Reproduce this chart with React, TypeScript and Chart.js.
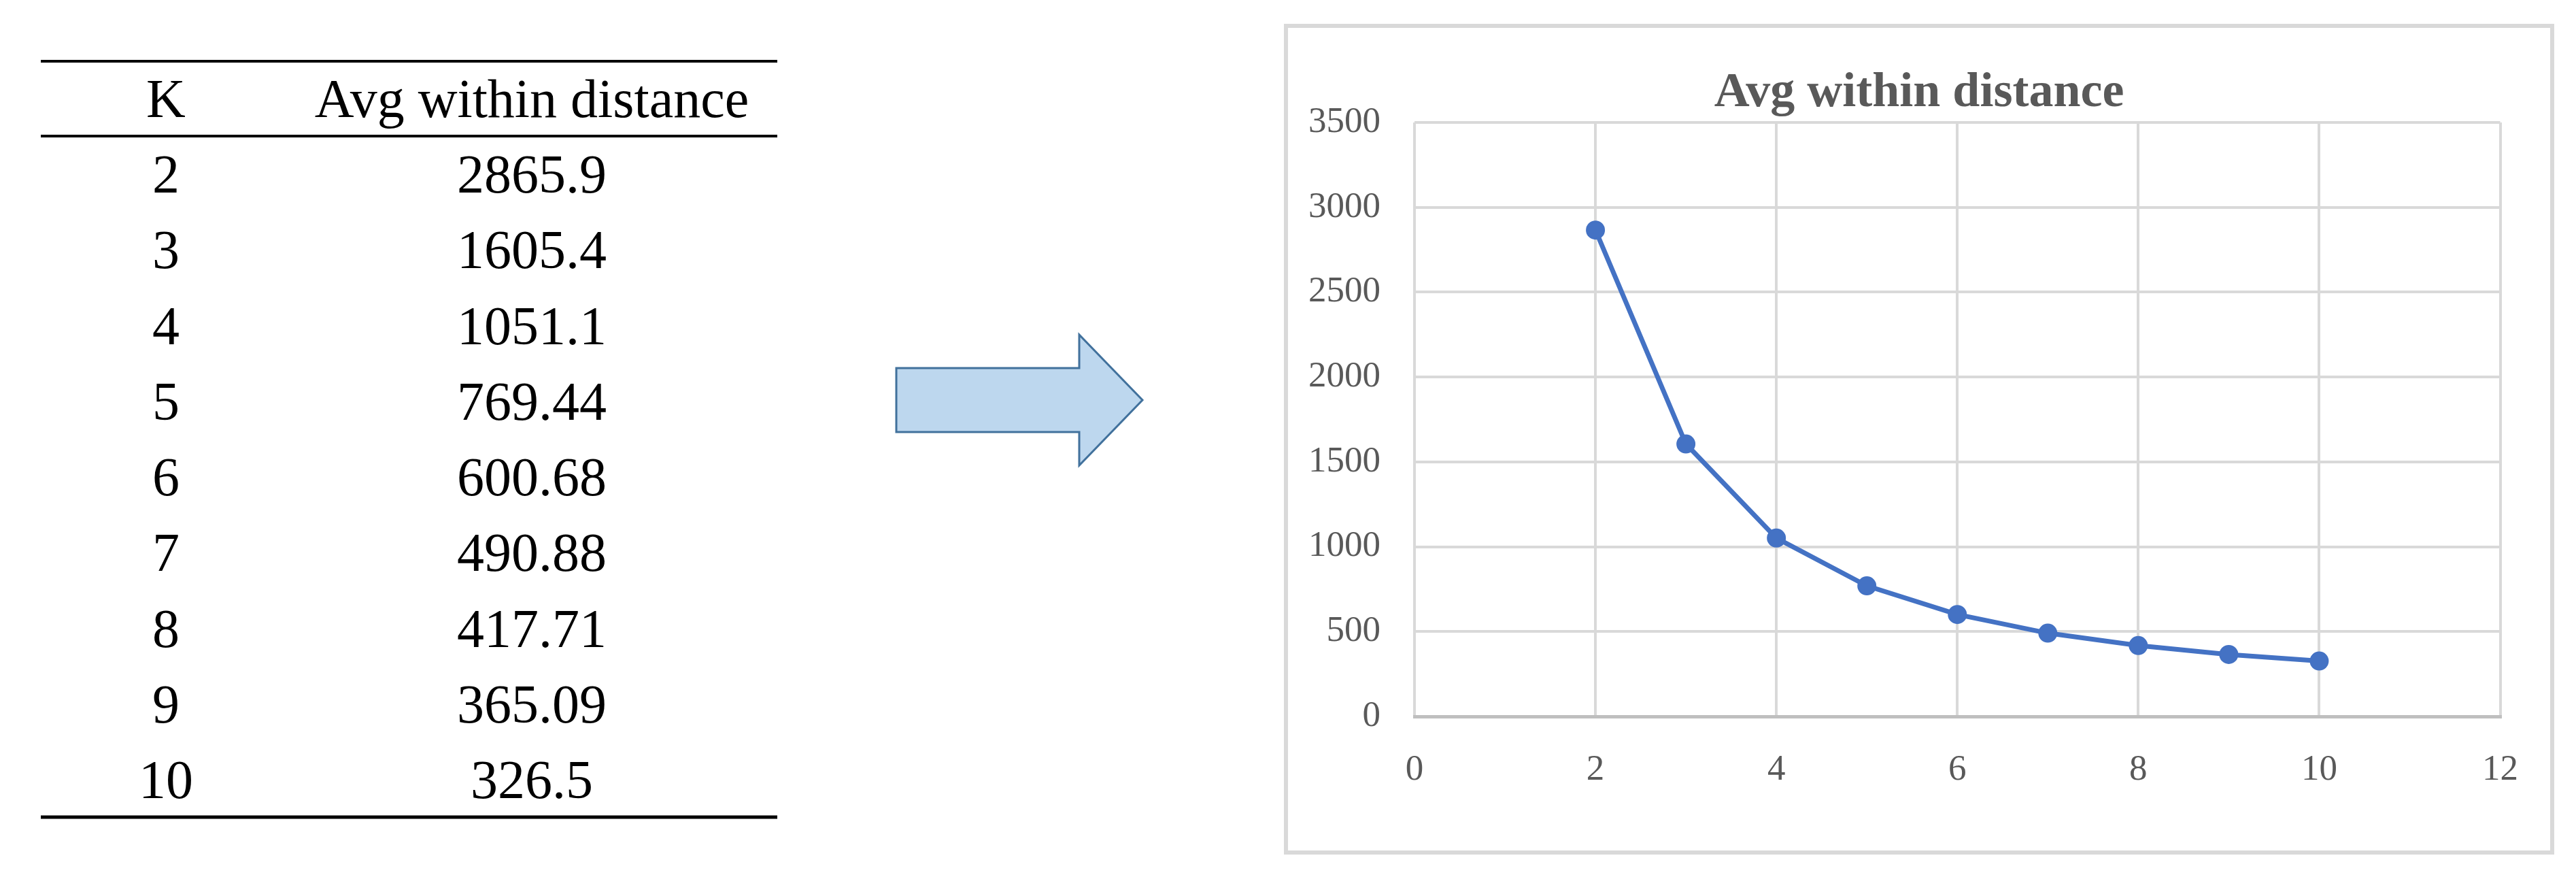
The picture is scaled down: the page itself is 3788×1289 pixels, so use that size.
import React, { useEffect, useRef } from "react";
import { Chart, registerables } from "chart.js";

Chart.register(...registerables);

// ---- data ----
const kValues = [2, 3, 4, 5, 6, 7, 8, 9, 10];
const avgWithinDistance = [2865.9, 1605.4, 1051.1, 769.44, 600.68, 490.88, 417.71, 365.09, 326.5];
const tableHeaders = ["K", "Avg within distance"];
const chartTitle = "Avg within distance";
const xTickRange = [0, 12, 2]; // min, max, step
const yTickRange = [0, 3500, 500]; // min, max, step

const FONT = "'Liberation Serif', 'Times New Roman', serif";
const TEXT_GRAY = "#595959";
const GRID = "#D9D9D9";
const AXIS = "#BFBFBF";
const BLUE = "#4472C4";

function ElbowChart() {
  const ref = useRef<HTMLCanvasElement | null>(null);
  useEffect(() => {
    if (!ref.current) return;
    const chart = new Chart(ref.current, {
      type: "line",
      data: {
        datasets: [
          {
            label: chartTitle,
            data: kValues.map((k, i) => ({ x: k, y: avgWithinDistance[i] })),
            borderColor: BLUE,
            backgroundColor: BLUE,
            borderWidth: 7,
            pointRadius: 13,
            pointBorderWidth: 2,
            pointBackgroundColor: BLUE,
            pointBorderColor: BLUE,
            tension: 0,
            fill: false,
          },
        ],
      },
      options: {
        responsive: false,
        animation: false,
        devicePixelRatio: 1,
        layout: { padding: { top: 0, left: 0, right: 0, bottom: 0 } },
        plugins: {
          legend: { display: false },
          tooltip: { enabled: false },
          title: {
            display: true,
            text: chartTitle,
            color: TEXT_GRAY,
            font: { family: FONT, size: 72, weight: "bold", lineHeight: 1.18 },
            padding: { top: 54, bottom: 0 },
          },
        },
        scales: {
          x: {
            type: "linear",
            min: xTickRange[0],
            max: xTickRange[1],
            ticks: {
              stepSize: xTickRange[2],
              padding: 47,
              color: TEXT_GRAY,
              font: { family: FONT, size: 53 },
              maxRotation: 0,
              callback: (v: any) => String(v),
            },
            grid: { color: GRID, lineWidth: 4, drawTicks: false },
            border: { display: true, color: AXIS, width: 5 },
            afterFit: (s: any) => {
              s.height = 197;
            },
          },
          y: {
            type: "linear",
            min: yTickRange[0],
            max: yTickRange[1],
            ticks: {
              stepSize: yTickRange[2],
              padding: 50,
              color: TEXT_GRAY,
              font: { family: FONT, size: 53 },
              callback: (v: any) => String(v),
            },
            grid: {
              color: (c: any) => (c.tick && c.tick.value === 0 ? AXIS : GRID),
              lineWidth: (c: any) => (c.tick && c.tick.value === 0 ? 5 : 4),
              drawTicks: false,
            },
            border: { display: false },
            afterFit: (s: any) => {
              s.width = 186;
            },
          },
          yRightSpace: {
            type: "linear",
            position: "right",
            display: true,
            grid: { display: false, drawTicks: false },
            border: { display: false },
            ticks: { display: false },
            afterFit: (s: any) => {
              s.width = 68;
            },
          },
        },
      } as any,
    });
    return () => chart.destroy();
  }, []);
  return (
    <canvas
      ref={ref}
      width={1856}
      height={1209}
      style={{ position: "absolute", left: 0, top: 0, width: 1856, height: 1209 }}
    />
  );
}

export default function App() {
  useEffect(() => {
    document.body.style.margin = "0";
  }, []);
  const kX = 244;
  const vX = 782;
  const firstBaseline = 283;
  const rowStep = 111.25;
  return (
    <div
      style={{
        position: "absolute",
        left: 0,
        top: 0,
        width: 3788,
        height: 1289,
        background: "#fff",
        overflow: "hidden",
      }}
    >
      <svg width={1888} height={1289} style={{ position: "absolute", left: 0, top: 0 }}>
        <line x1={60} x2={1143} y1={90} y2={90} stroke="#000" strokeWidth={4} />
        <line x1={60} x2={1143} y1={200} y2={200} stroke="#000" strokeWidth={4} />
        <line x1={60} x2={1143} y1={1201} y2={1201} stroke="#000" strokeWidth={5} />
        <text x={kX} y={172} textAnchor="middle" fontFamily={FONT} fontSize={80} fill="#000">
          {tableHeaders[0]}
        </text>
        <text x={vX} y={172} textAnchor="middle" fontFamily={FONT} fontSize={80} fill="#000">
          {tableHeaders[1]}
        </text>
        {kValues.map((k, i) => (
          <g key={k}>
            <text
              x={kX}
              y={firstBaseline + rowStep * i}
              textAnchor="middle"
              fontFamily={FONT}
              fontSize={80}
              fill="#000"
            >
              {String(k)}
            </text>
            <text
              x={vX}
              y={firstBaseline + rowStep * i}
              textAnchor="middle"
              fontFamily={FONT}
              fontSize={80}
              fill="#000"
            >
              {String(avgWithinDistance[i])}
            </text>
          </g>
        ))}
        <polygon
          points="1318,541 1587,541 1587,492 1680,588 1587,684 1587,635 1318,635"
          fill="#BDD7EE"
          stroke="#41719C"
          strokeWidth={3}
          strokeLinejoin="miter"
        />
      </svg>
      <div
        style={{
          position: "absolute",
          left: 1888,
          top: 35,
          width: 1868,
          height: 1221,
          boxSizing: "border-box",
          border: "6px solid " + GRID,
          background: "#fff",
        }}
      >
        <ElbowChart />
      </div>
    </div>
  );
}
